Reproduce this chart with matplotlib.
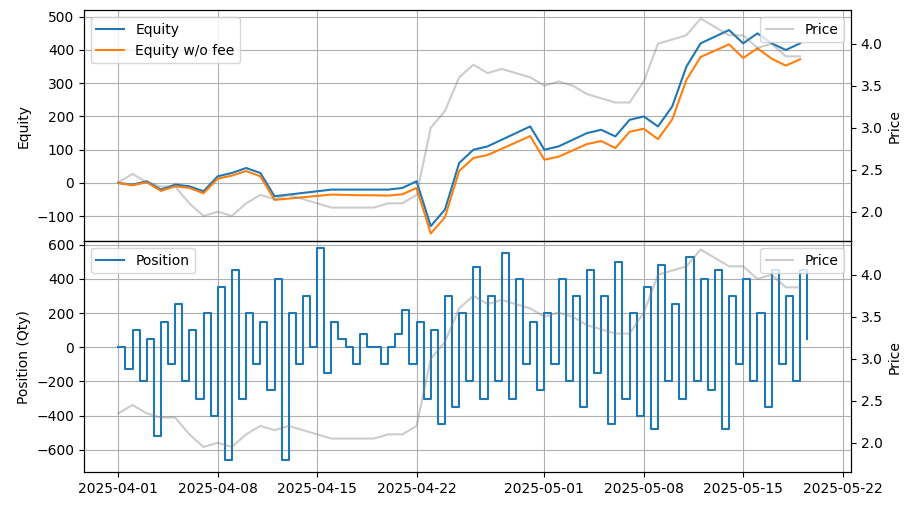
import matplotlib
matplotlib.use("Agg")
import matplotlib.pyplot as plt
import matplotlib.dates as mdates
import pandas as pd
import numpy as np

day_dates = pd.date_range("2025-04-01", periods=49, freq="D")
half_dates = pd.date_range("2025-04-01", periods=98, freq="12h")

equity = [0, -5, 5, -20, -5, -10, -25, 20, 30, 45, 30, -40, -35, -30, -25, -20,
          -20, -20, -20, -20, -15, 5, -130, -80, 60, 100, 110, 130, 150, 170, 100,
          110, 130, 150, 160, 140, 190, 200, 170, 230, 350, 420, 440, 460, 420, 450,
          420, 400, 420]
equity_nofee = [0, -7, 2, -24, -10, -15, -31, 13, 22, 36, 20, -51, -47, -43, -39, -35,
                -36, -37, -37, -38, -34, -15, -152, -103, 36, 75, 84, 103, 122, 141, 70,
                79, 98, 117, 126, 105, 154, 163, 132, 191, 310, 379, 398, 417, 376, 405,
                374, 353, 372]
price = [2.35, 2.45, 2.35, 2.3, 2.3, 2.1, 1.95, 2.0, 1.95, 2.1, 2.2, 2.15, 2.2, 2.15,
         2.1, 2.05, 2.05, 2.05, 2.05, 2.1, 2.1, 2.2, 3.0, 3.2, 3.6, 3.75, 3.65, 3.7,
         3.65, 3.6, 3.5, 3.55, 3.5, 3.4, 3.35, 3.3, 3.3, 3.55, 4.0, 4.05, 4.1, 4.3,
         4.2, 4.1, 4.1, 3.95, 4.0, 3.85, 3.85]
position = [0, -130, 100, -200, 50, -520, 150, -100, 250, -200, 100, -300, 200, -400,
            350, -660, 450, -300, 200, -100, 150, -250, 400, -660, 200, -100, 300, 0,
            580, -150, 150, 50, 0, -100, 80, 0, 0, -100, 0, 80, 220, -100, 150, -300,
            100, -450, 300, -350, 200, -200, 470, -300, 300, -200, 550, -300, 400, -100,
            150, -250, 200, -100, 400, -200, 300, -350, 450, -150, 300, -450, 500, -300,
            200, -400, 350, -480, 480, -200, 250, -300, 530, -200, 400, -250, 450, -480,
            300, -100, 400, -200, 200, -350, 450, -100, 300, -200, 450, 50]

fig, (ax1, ax2) = plt.subplots(2, 1, sharex=True, figsize=(9.13, 5.05), dpi=100)
fig.subplots_adjust(left=0.092, right=0.932, top=0.98, bottom=0.065, hspace=0)

ax1.plot(day_dates, equity, color="#1f77b4", label="Equity")
ax1.plot(day_dates, equity_nofee, color="#ff7f0e", label="Equity w/o fee")
ax1.set_ylabel("Equity")
ax1.grid(True)
ax1.legend(loc="upper left")
ax1.set_ylim(-175, 520)
t1 = ax1.twinx()
t1.plot(day_dates, price, color="gray", alpha=0.4, label="Price")
t1.set_ylabel("Price")
t1.set_ylim(1.65, 4.4)
t1.legend(loc="upper right")

ax2.step(half_dates, position, where="post", color="#1f77b4", label="Position")
ax2.set_ylabel("Position (Qty)")
ax2.grid(True)
ax2.legend(loc="upper left")
ax2.set_ylim(-730, 620)
t2 = ax2.twinx()
t2.plot(day_dates, price, color="gray", alpha=0.4, label="Price")
t2.set_ylabel("Price")
t2.set_ylim(1.65, 4.4)
t2.legend(loc="upper right")

ax2.set_xlim(pd.Timestamp("2025-03-29 14:00"), pd.Timestamp("2025-05-22 14:00"))
ax2.xaxis.set_major_locator(mdates.DayLocator(bymonthday=[1, 8, 15, 22]))
ax2.xaxis.set_major_formatter(mdates.DateFormatter("%Y-%m-%d"))
fig.savefig("out.png")
